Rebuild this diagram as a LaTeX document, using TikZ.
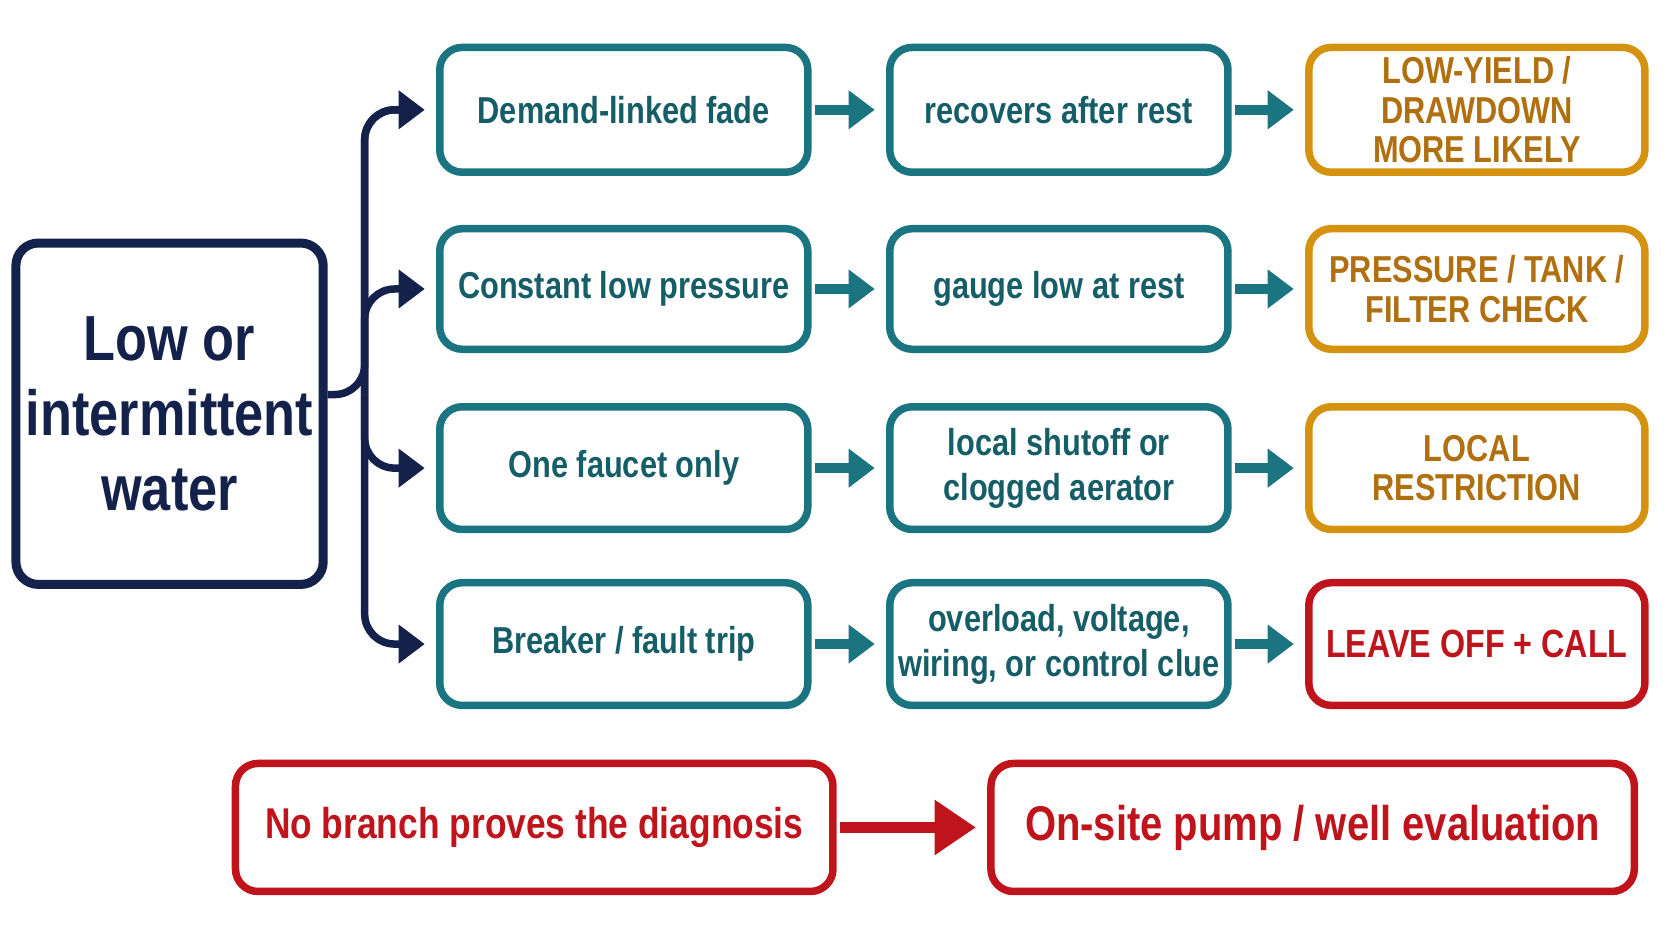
\documentclass[tikz,border=0pt]{standalone}
\usepackage{fontspec}
\setmainfont{Liberation Sans}[FakeStretch=0.82]
\usetikzlibrary{arrows.meta}
\definecolor{navy}{HTML}{14214A}
\definecolor{teal}{HTML}{1A7580}
\definecolor{ochre}{HTML}{D4920F}
\definecolor{ochretext}{HTML}{B07010}
\definecolor{alarm}{HTML}{C0141C}
\tikzset{
	box/.style={draw,rounded corners=6pt,line width=2pt,align=center,inner sep=2pt,font=\bfseries},
	tealbox/.style={box,draw=teal,text=teal!80!black,minimum width=3.45cm,minimum height=1.17cm,font=\bfseries\fontsize{10}{12}\selectfont},
	tealbox2/.style={tealbox,minimum width=3.17cm},
	resultbox/.style={box,draw=ochre,text=ochretext,minimum width=3.15cm,minimum height=1.17cm,font=\bfseries\fontsize{10}{10.5}\selectfont},
	flow/.style={-{Triangle[length=7pt,width=10pt]},line width=2.5pt,teal},
}
\begin{document}
\begin{tikzpicture}[x=0.01cm,y=-0.01cm]
	\useasboundingbox (0,0) rectangle (1568,882);
	\node[box,draw=navy,text=navy,line width=2.4pt,minimum width=2.88cm,minimum height=3.2cm,font=\bfseries\fontsize{17}{20}\selectfont] (low) at (159,388) {Low or\\intermittent\\water};
	% rows
	\node[tealbox] (fade) at (585,103) {Demand-linked fade};
	\node[tealbox2] (rest) at (993,103) {recovers after rest};
	\node[resultbox] (yield) at (1385,103) {LOW-YIELD /\\DRAWDOWN\\MORE LIKELY};
	\node[tealbox,minimum height=1.13cm] (const) at (585,271) {Constant low pressure};
	\node[tealbox2,minimum height=1.13cm] (gauge) at (993,271) {gauge low at rest};
	\node[resultbox,minimum height=1.13cm] (tank) at (1385,271) {PRESSURE / TANK /\\FILTER CHECK};
	\node[tealbox,minimum height=1.15cm] (faucet) at (585,439) {One faucet only};
	\node[tealbox2,minimum height=1.15cm] (aerator) at (993,439) {local shutoff or\\clogged aerator};
	\node[resultbox,minimum height=1.15cm] (local) at (1385,439) {LOCAL\\RESTRICTION};
	\node[tealbox,minimum height=1.15cm] (breaker) at (585,604) {Breaker / fault trip};
	\node[tealbox2,minimum height=1.15cm] (clue) at (993,604) {overload, voltage,\\wiring, or control clue};
	\node[box,draw=alarm,text=alarm,minimum width=3.15cm,minimum height=1.15cm,font=\bfseries\fontsize{10.5}{12}\selectfont] (call) at (1385,604) {LEAVE OFF + CALL};
	\foreach \a/\b/\c in {fade/rest/yield,const/gauge/tank,faucet/aerator/local,breaker/clue/call}{
		\draw[flow] (\a.east) ++(1pt,0) -- ([xshift=-3pt]\b.west);
		\draw[flow] (\b.east) ++(1pt,0) -- ([xshift=-3pt]\c.west);
	}
	% branch
	\coordinate (split) at (342,370);
	\draw[navy,line width=2pt,rounded corners=8pt] (low.east |- split) -- (split) |- ([xshift=-6pt]fade.west);
	\foreach \t in {fade,const,faucet,breaker}
		\draw[navy,line width=2pt,rounded corners=8pt,-{Triangle[length=7pt,width=10pt]}] (split) |- ([xshift=-3pt]\t.west);
	% bottom
	\node[box,draw=alarm,text=alarm,minimum width=5.6cm,minimum height=1.2cm,font=\bfseries\fontsize{11.5}{15}\selectfont] (nobranch) at (501,776) {No branch proves the diagnosis};
	\node[box,draw=alarm,text=alarm,minimum width=6.03cm,minimum height=1.2cm,font=\bfseries\fontsize{13}{17}\selectfont] (onsite) at (1231,776) {On-site pump / well evaluation};
	\draw[alarm,line width=3pt,-{Triangle[length=11pt,width=14pt]}] (nobranch.east) ++(1pt,0) -- ([xshift=-3pt]onsite.west);
\end{tikzpicture}
\end{document}
